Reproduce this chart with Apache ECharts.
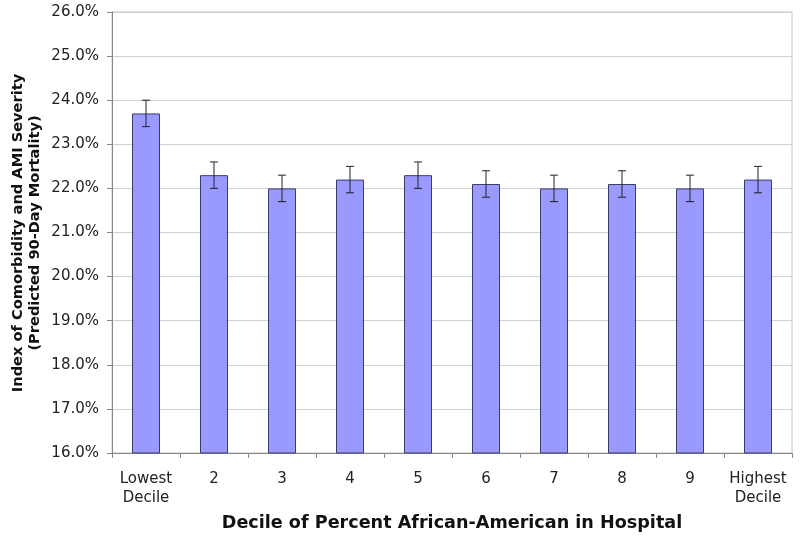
<!DOCTYPE html>
<html>
<head>
<meta charset="utf-8">
<script src="https://cdn.jsdelivr.net/npm/echarts@6/dist/echarts.min.js"></script>
<style>
html,body{margin:0;padding:0;background:#fff;}
#chart{width:800px;height:538px;}
</style>
</head>
<body>
<div id="chart"></div>
<script>
var categories = ['Lowest\nDecile', '2', '3', '4', '5', '6', '7', '8', '9', 'Highest\nDecile'];
var values = [23.7, 22.3, 22.0, 22.2, 22.3, 22.1, 22.0, 22.1, 22.0, 22.2];
var errorMargins = [0.3, 0.3, 0.3, 0.3, 0.3, 0.3, 0.3, 0.3, 0.3, 0.3];
var yTicks = {min: 16, max: 26, interval: 1};
var xTitle = 'Decile of Percent African-American in Hospital';
var yTitle = 'Index of Comorbidity and AMI Severity\n(Predicted 90-Day Mortality)';

var FONT = 'DejaVu Sans, Verdana, sans-serif';
var errorData = values.map(function (v, i) { return [i, v - errorMargins[i], v + errorMargins[i]]; });

var chart = echarts.init(document.getElementById('chart'), null, {renderer: 'canvas'});
chart.setOption({
  animation: false,
  backgroundColor: '#ffffff',
  grid: {left: 112, right: 8, top: 12, bottom: 85, show: true, borderColor: '#c4c4c4', borderWidth: 1},
  xAxis: {
    type: 'category',
    data: categories,
    boundaryGap: true,
    axisLine: {lineStyle: {color: '#868686', width: 1}},
    axisTick: {show: true, length: 5, lineStyle: {color: '#868686'}},
    axisLabel: {color: '#222', fontFamily: FONT, fontSize: 15, lineHeight: 19, margin: 17, interval: 0}
  },
  yAxis: {
    type: 'value',
    min: yTicks.min, max: yTicks.max, interval: yTicks.interval,
    axisLine: {show: true, lineStyle: {color: '#868686', width: 1}},
    axisTick: {show: true, length: 5, lineStyle: {color: '#868686'}},
    axisLabel: {color: '#222', fontFamily: FONT, fontSize: 15, margin: 13,
      formatter: function (v) { return v.toFixed(1) + '%'; }},
    splitLine: {show: true, lineStyle: {color: '#d0d0d0', width: 1}}
  },
  graphic: [
    {type: 'text', x: 27, y: 233, rotation: Math.PI / 2,
      style: {text: yTitle, font: 'bold 14.6px ' + FONT, fill: '#111', align: 'center', verticalAlign: 'middle', lineHeight: 17}},
    {type: 'text', x: 452, y: 523,
      style: {text: xTitle, font: 'bold 17.6px ' + FONT, fill: '#111', align: 'center', verticalAlign: 'middle'}}
  ],
  series: [
    {
      type: 'bar',
      data: values,
      barWidth: 28,
      itemStyle: {color: '#9999ff', borderColor: '#3c3c6a', borderWidth: 1},
      z: 2
    },
    {
      type: 'custom',
      data: errorData,
      z: 3,
      renderItem: function (params, api) {
        var x = api.value(0);
        var lo = api.coord([x, api.value(1)]);
        var hi = api.coord([x, api.value(2)]);
        var cap = 4;
        var style = {stroke: '#222', lineWidth: 1};
        return {
          type: 'group',
          children: [
            {type: 'line', shape: {x1: lo[0], y1: lo[1], x2: hi[0], y2: hi[1]}, style: style},
            {type: 'line', shape: {x1: lo[0] - cap, y1: lo[1], x2: lo[0] + cap, y2: lo[1]}, style: style},
            {type: 'line', shape: {x1: hi[0] - cap, y1: hi[1], x2: hi[0] + cap, y2: hi[1]}, style: style}
          ]
        };
      }
    }
  ]
});
</script>
</body>
</html>
